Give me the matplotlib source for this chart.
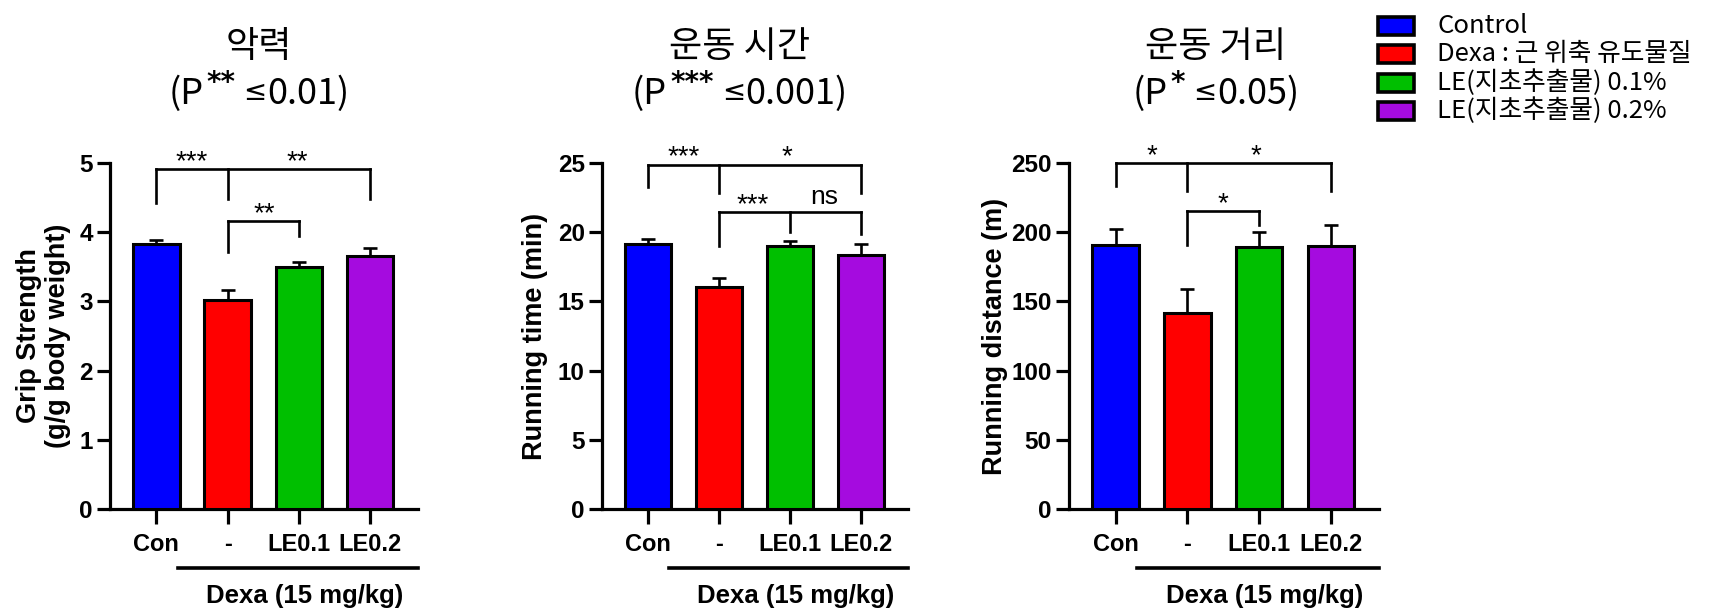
import numpy as np
import matplotlib
matplotlib.use('Agg')
import matplotlib.pyplot as plt
from matplotlib.patches import Rectangle

# groups and colours
groups = ['Con', '-', 'LE0.1', 'LE0.2']
colors = ['#0000FF', '#FF0000', '#00BF00', '#A50BDF']
legend_labels = ['Control', 'Dexa : 근 위축 유도물질', 'LE(지초추출물) 0.1%', 'LE(지초추출물) 0.2%']

# values (mean, upper error)
grip_mean = [3.83, 3.02, 3.50, 3.65]
grip_err = [0.06, 0.14, 0.07, 0.12]
time_mean = [19.14, 16.02, 19.00, 18.38]
time_err = [0.36, 0.70, 0.37, 0.74]
dist_mean = [190.9, 141.6, 189.2, 190.3]
dist_err = [11.2, 17.5, 10.7, 15.2]

titles = ['악력', '운동 시간', '운동 거리']
p_stars = ['**', '***', '*']
p_values = ['0.01', '0.001', '0.05']
ylabels = ['Grip Strength\n(g/g body weight)', 'Running time (min)', 'Running distance (m)']
ymax = [5, 25, 250]
ystep = [1, 5, 50]

# significance brackets: (x positions, line height, leg ends) and labels (x, y, text)
grip_brackets = [([0, 1, 3], 4.91, [4.42, 4.48, 4.48]), ([1, 2], 4.16, [3.72, 3.94])]
grip_marks = [(0.5, 4.91, '***'), (1.97, 4.91, '**'), (1.52, 4.16, '**')]
time_brackets = [([0, 1, 3], 24.89, [23.23, 22.86, 22.86]), ([1, 2, 3], 21.45, [19.0, 19.99, 19.85])]
time_marks = [(0.5, 24.89, '***'), (1.96, 24.89, '*'), (1.48, 21.45, '***'), (2.49, 21.45, 'ns')]
dist_brackets = [([0, 1, 3], 250, [233.7, 229.5, 229.5]), ([1, 2], 215.4, [190.9, 205.5])]
dist_marks = [(0.51, 250, '*'), (1.96, 250, '*'), (1.5, 215.4, '*')]

means = [grip_mean, time_mean, dist_mean]
errs = [grip_err, time_err, dist_err]
brackets = [grip_brackets, time_brackets, dist_brackets]
marks = [grip_marks, time_marks, dist_marks]

CJK = 'Noto Sans CJK KR'
plt.rcParams['font.family'] = ['Liberation Sans', 'DejaVu Sans']

W, H = 1717, 610
fig = plt.figure(figsize=(W / 100, H / 100), dpi=100)

lefts = [110, 602, 1069]
widths = [308, 306, 310]
title_cx = [259, 740, 1216]
ylab_x = [-0.215, -0.219, -0.239]
bottom_px, top_px = 509, 163

x = np.arange(len(groups))
for i in range(3):
    ax = fig.add_axes([lefts[i] / W, (H - bottom_px) / H, widths[i] / W, (bottom_px - top_px) / H])
    ax.errorbar(x, means[i], yerr=[np.zeros(4), errs[i]], fmt='none', ecolor='black',
                elinewidth=1.9, capsize=5, capthick=1.9, zorder=2)
    ax.bar(x, means[i], width=0.65, color=colors, edgecolor='black', linewidth=2.2, zorder=3)

    ax.set_xlim(-0.65, 3.67)
    ax.set_ylim(0, ymax[i])
    ax.set_yticks(np.arange(0, ymax[i] + 1e-9, ystep[i]))
    ax.set_xticks(x)
    ax.set_xticklabels(groups, fontsize=17, fontweight='bold')
    for lab in ax.get_yticklabels():
        lab.set_fontsize(17.5)
        lab.set_fontweight('bold')
    for s in ['top', 'right']:
        ax.spines[s].set_visible(False)
    for s in ['left', 'bottom']:
        ax.spines[s].set_linewidth(2.3)
    ax.tick_params(axis='y', length=9.5, width=2.3, pad=3)
    ax.tick_params(axis='x', length=11, width=2.3, pad=6)

    ax.set_ylabel(ylabels[i], fontsize=19.5, fontweight='bold', linespacing=1.15, va='center')
    ax.yaxis.set_label_coords(ylab_x[i], 0.5)

    # brackets
    for xs, yl, legs in brackets[i]:
        ax.plot([xs[0], xs[-1]], [yl, yl], color='black', lw=1.9, clip_on=False, zorder=4,
                solid_capstyle='projecting')
        for xx, lb in zip(xs, legs):
            ax.plot([xx, xx], [yl, lb], color='black', lw=1.9, clip_on=False, zorder=4)
    for xx, yy, t in marks[i]:
        off = 6 if t == 'ns' else 0
        ax.annotate(t, xy=(xx, yy), xytext=(0, off), textcoords='offset points',
                    ha='center', va='baseline', fontsize=19 if t == 'ns' else 20,
                    annotation_clip=False)

    # Dexa group line
    tr = ax.get_xaxis_transform()
    ax.plot([0.3, 3.67], [-0.17, -0.17], transform=tr, color='black', lw=2.6, clip_on=False)
    ax.text(2.08, -0.252, 'Dexa (15 mg/kg)', transform=tr, ha='center', va='center',
            fontsize=18.5, fontweight='bold')

    # titles
    fig.text(title_cx[i] / W, 1 - 47 / H, titles[i], ha='center', va='center',
             fontsize=26, family=CJK)
    t1 = fig.text(title_cx[i] / W, 1 - 104 / H, '(P', ha='left', va='baseline',
                  fontsize=26, family=CJK)
    t2 = ax.annotate(p_stars[i], xy=(1, 1), xycoords=t1, xytext=(2, 5),
                     textcoords='offset points', ha='left', va='top', fontsize=20,
                     family='DejaVu Sans', fontweight='bold', annotation_clip=False)
    t3 = ax.annotate(' \u2264', xy=(1, 0), xycoords=(t2, t1), xytext=(0, 4),
                     textcoords='offset points', ha='left', va='bottom', fontsize=20,
                     family='DejaVu Sans', annotation_clip=False)
    t4 = ax.annotate(p_values[i] + ')', xy=(1, 0), xycoords=(t3, t1),
                     ha='left', va='bottom', fontsize=26, family=CJK, annotation_clip=False)
    fig.canvas.draw()
    r = fig.canvas.get_renderer()
    x0 = t1.get_window_extent(r).x0
    x1 = t4.get_window_extent(r).x1
    shift = title_cx[i] - (x0 + x1) / 2
    t1.set_x(t1.get_position()[0] + shift / W)

# legend
for i, lab in enumerate(legend_labels):
    yc = 26 + 28.4 * i
    fig.patches.append(Rectangle((1378 / W, 1 - (yc + 9) / H), 36 / W, 18 / H,
                                 transform=fig.transFigure, facecolor=colors[i],
                                 edgecolor='black', linewidth=2.6))
    fig.text(1437 / W, 1 - yc / H, lab, ha='left', va='center', fontsize=18.5, family=CJK)

fig.savefig('out.png', dpi=100)
